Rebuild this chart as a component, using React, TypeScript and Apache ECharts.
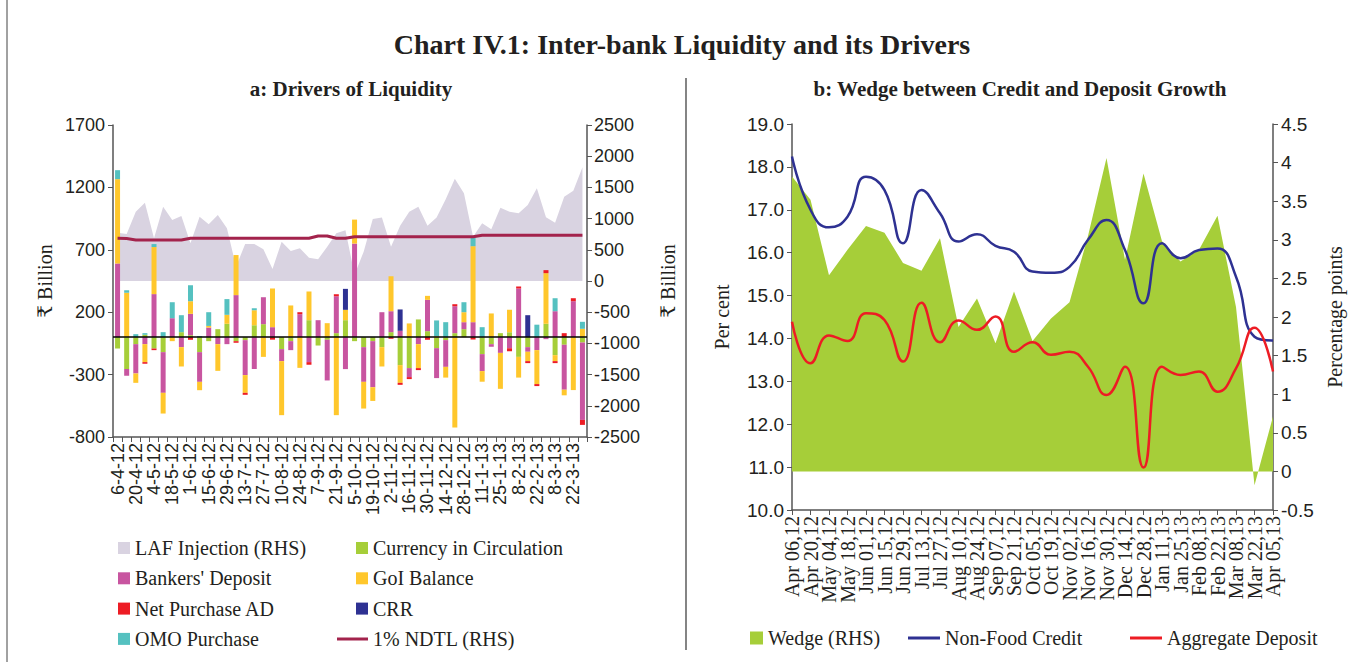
import { useEffect, useRef } from "react";
import * as echarts from "echarts";

const weeks = [
  "6-4-12", "13-4-12", "20-4-12", "27-4-12", "4-5-12", "11-5-12", "18-5-12", "25-5-12",
  "1-6-12", "8-6-12", "15-6-12", "22-6-12", "29-6-12", "6-7-12", "13-7-12", "20-7-12",
  "27-7-12", "3-8-12", "10-8-12", "17-8-12", "24-8-12", "31-8-12", "7-9-12", "14-9-12",
  "21-9-12", "28-9-12", "5-10-12", "12-10-12", "19-10-12", "26-10-12", "2-11-12", "9-11-12",
  "16-11-12", "23-11-12", "30-11-12", "7-12-12", "14-12-12", "21-12-12", "28-12-12", "4-1-13",
  "11-1-13", "18-1-13", "25-1-13", "1-2-13", "8-2-13", "15-2-13", "22-2-13", "1-3-13",
  "8-3-13", "15-3-13", "22-3-13", "29-3-13",
];

const currency = [-91, -256, -56, 19, -91, -120, 0, 40, 16, -120, -32, 64, 107, -32, -24, 96, 104, 0, -96, -32, 0, 136, -67, -21, 32, 136, -32, -80, -32, -80, 40, -224, -248, 142, 48, -88, -24, 32, 64, 0, -136, -56, 32, 40, -158, -80, 0, 107, -144, -61, 0, -43];
const bankers = [590, -53, -235, -56, 345, -326, 152, -80, 171, -238, 77, -56, -56, 337, -280, -256, 216, 80, -96, -72, 184, -200, 136, -326, 296, -256, 750, -278, -369, 200, 168, 51, -72, -56, 251, -240, -214, 216, 56, 120, -136, -21, -126, -88, 390, -37, -104, -16, 208, -360, 288, -620];
const goi = [676, 355, -75, -144, 377, -166, -32, -155, 101, -67, 13, -214, 72, 321, -142, 120, -158, 310, -433, 254, -246, 230, 0, 112, -625, 83, 192, -214, -110, -155, 280, -142, 110, -192, 32, 8, -86, -724, 80, 609, -85, 190, -288, 179, -166, -75, -272, 406, -48, -45, -424, 67];
const netAD = [0, 0, 0, -13, -13, 0, 0, 0, -21, 0, 0, 0, 0, -13, -16, 0, 0, -20, 0, 0, 16, -21, 0, 0, 16, 0, 0, 0, 0, 0, -13, -16, -16, -16, -21, 0, 0, 16, 0, -19, 0, 0, 0, -24, 16, -16, -16, 24, -16, 32, 24, -40];
const crr = [0, 0, 0, 0, 0, 0, 0, 0, 0, 0, 0, 0, 0, 0, 0, 0, 0, 0, 0, 0, 0, 0, 0, 0, 0, 168, 0, 0, 0, 0, 0, 171, 0, 0, 0, 0, 0, 0, 0, 0, 0, 0, 0, 0, 0, 176, 0, 0, 0, 0, 0, 0];
const omo = [72, 21, 24, 13, 24, 40, 128, 136, 128, 8, 110, 0, 126, 0, 0, 16, 0, 0, 0, 0, 0, 0, 0, 0, 0, 0, 0, 0, 0, 0, 0, 0, 0, 0, 0, 126, 120, 0, 80, 80, 80, 0, 0, 0, 0, 0, 100, 0, 104, 0, 0, 56];
const lafInjection = [774, 753, 1111, 1255, 684, 1191, 978, 1042, 604, 1031, 908, 1058, 844, 230, 593, 593, 508, 192, 630, 481, 524, 374, 348, 550, 764, 815, 100, 470, 995, 1018, 550, 885, 1111, 1191, 884, 1018, 1309, 1638, 1405, 710, 924, 828, 1175, 1111, 1085, 1218, 1485, 1020, 934, 1351, 1447, 1822];
const ndtl = [685, 680, 657, 657, 657, 657, 657, 657, 685, 685, 685, 685, 685, 685, 685, 685, 685, 685, 685, 685, 685, 685, 721, 721, 685, 685, 710, 710, 710, 710, 710, 710, 710, 710, 710, 710, 710, 710, 710, 710, 732, 732, 732, 732, 732, 732, 732, 732, 732, 732, 732, 732];

const fortnights = [
  "Apr 06,12", "Apr 20,12", "May 04,12", "May 18,12", "Jun 01,12", "Jun 15,12", "Jun 29,12",
  "Jul 13,12", "Jul 27,12", "Aug 10,12", "Aug 24,12", "Sep 07,12", "Sep 21,12", "Oct 05,12",
  "Oct 19,12", "Nov 02,12", "Nov 16,12", "Nov 30,12", "Dec 14,12", "Dec 28,12", "Jan 11,13",
  "Jan 25,13", "Feb 08,13", "Feb 22,13", "Mar 08,13", "Mar 22,13", "Apr 05,13",
];
const nonFoodCredit = [18.24, 17.0, 16.59, 16.84, 17.77, 17.46, 16.22, 17.46, 16.92, 16.26, 16.43, 16.16, 16.02, 15.56, 15.53, 15.67, 16.3, 16.76, 16.06, 14.82, 16.22, 15.87, 16.06, 16.1, 15.44, 14.04, 13.95];
const aggregateDeposit = [14.39, 13.42, 14.07, 13.94, 14.59, 14.43, 13.46, 14.83, 13.91, 14.42, 14.2, 14.51, 13.69, 13.91, 13.62, 13.69, 13.34, 12.68, 13.34, 10.99, 13.34, 13.15, 13.23, 12.76, 13.3, 14.25, 13.23];
const wedge = [3.82, 3.52, 2.54, 2.87, 3.18, 3.09, 2.7, 2.6, 3.02, 1.87, 2.24, 1.66, 2.33, 1.69, 1.98, 2.19, 3.05, 4.06, 2.74, 3.86, 2.98, 2.72, 2.87, 3.31, 2.13, -0.18, 0.71];

const TXT = "#231f20";
const AX = "#555555";
const SERIF = '"Liberation Serif", "DejaVu Serif", serif';
const SANS = '"Liberation Sans", "DejaVu Sans", sans-serif';

export default function App() {
  const ref = useRef<HTMLDivElement>(null);
  useEffect(() => {
    if (!ref.current) return;
    const chart = echarts.init(ref.current, undefined, { renderer: "svg" });
    const axisLine = { show: true, onZero: false, lineStyle: { color: AX, width: 1.5 } };
    const axisTick = { show: true, length: 5, lineStyle: { color: AX, width: 1 } };
    const legendText = { fontSize: 20, fontFamily: SERIF, color: TXT, lineHeight: 20 };
    const nameStyle = { fontSize: 20, fontFamily: SERIF, color: TXT };
    const plain = (v: number) => String(v);
    const barSeries = (name: string, data: number[], color: string, extra: any = {}) => ({
      name,
      type: "bar",
      xAxisIndex: 0,
      yAxisIndex: 0,
      stack: "drivers",
      barWidth: 5,
      data,
      itemStyle: { color },
      z: 3,
      ...extra,
    });
    const option: any = {
      animation: false,
      backgroundColor: "#ffffff",
      grid: [
        { left: 113, top: 125, width: 474, height: 312 },
        { left: 792, top: 124, width: 481, height: 386 },
      ],
      xAxis: [
        {
          type: "category",
          gridIndex: 0,
          data: weeks,
          boundaryGap: true,
          axisLine,
          axisTick: { ...axisTick, interval: 0 },
          axisLabel: { interval: 1, rotate: 90, fontSize: 18, fontFamily: SANS, color: TXT, margin: 6 },
          splitLine: { show: false },
        },
        {
          type: "category",
          gridIndex: 1,
          data: fortnights,
          boundaryGap: false,
          axisLine,
          axisTick: { ...axisTick, interval: 0 },
          axisLabel: { interval: 0, rotate: 90, fontSize: 20, fontFamily: SERIF, color: TXT, margin: 6 },
          splitLine: { show: false },
        },
      ],
      yAxis: [
        {
          type: "value",
          gridIndex: 0,
          position: "left",
          min: -800,
          max: 1700,
          interval: 500,
          axisLine,
          axisTick,
          splitLine: { show: false },
          axisLabel: { fontSize: 18, fontFamily: SANS, color: TXT, margin: 8, formatter: plain },
          name: "₹ Billion",
          nameLocation: "middle",
          nameRotate: 90,
          nameGap: 58,
          nameTextStyle: nameStyle,
        },
        {
          type: "value",
          gridIndex: 0,
          position: "right",
          min: -2500,
          max: 2500,
          interval: 500,
          axisLine,
          axisTick,
          splitLine: { show: false },
          axisLabel: { fontSize: 18, fontFamily: SANS, color: TXT, margin: 7, formatter: plain },
          name: "₹ Billion",
          nameLocation: "middle",
          nameRotate: 90,
          nameGap: 71,
          nameTextStyle: nameStyle,
        },
        {
          type: "value",
          gridIndex: 1,
          position: "left",
          min: 10,
          max: 19,
          interval: 1,
          axisLine,
          axisTick,
          splitLine: { show: false },
          axisLabel: { fontSize: 19, fontFamily: SANS, color: TXT, margin: 8, formatter: (v: number) => v.toFixed(1) },
          name: "Per cent",
          nameLocation: "middle",
          nameRotate: 90,
          nameGap: 60,
          nameTextStyle: nameStyle,
        },
        {
          type: "value",
          gridIndex: 1,
          position: "right",
          min: -0.5,
          max: 4.5,
          interval: 0.5,
          axisLine,
          axisTick,
          splitLine: { show: false },
          axisLabel: { fontSize: 19, fontFamily: SANS, color: TXT, margin: 8, formatter: plain },
          name: "Percentage points",
          nameLocation: "middle",
          nameRotate: 90,
          nameGap: 52,
          nameTextStyle: nameStyle,
        },
      ],
      legend: [
        {
          orient: "vertical",
          left: 113,
          top: 533,
          itemWidth: 12,
          itemHeight: 12,
          itemGap: 10.3,
          textStyle: legendText,
          data: [
            { name: "LAF Injection (RHS)", icon: "rect" },
            { name: "Bankers' Deposit", icon: "rect" },
            { name: "Net Purchase AD", icon: "rect" },
            { name: "OMO Purchase", icon: "rect" },
          ],
        },
        {
          orient: "vertical",
          left: 351,
          top: 533,
          itemWidth: 12,
          itemHeight: 12,
          itemGap: 10.3,
          textStyle: legendText,
          data: [
            { name: "Currency in Circulation", icon: "rect" },
            { name: "GoI Balance", icon: "rect" },
            { name: "CRR", icon: "rect" },
          ],
        },
        {
          left: 332,
          top: 624,
          itemWidth: 31,
          itemHeight: 3,
          textStyle: legendText,
          data: [{ name: "1% NDTL (RHS)", icon: "rect" }],
        },
        {
          left: 745,
          top: 623,
          itemWidth: 13,
          itemHeight: 13,
          textStyle: legendText,
          data: [{ name: "Wedge (RHS)", icon: "rect" }],
        },
        {
          left: 903,
          top: 623,
          itemWidth: 32,
          itemHeight: 3,
          textStyle: legendText,
          data: [{ name: "Non-Food Credit", icon: "rect" }],
        },
        {
          left: 1125,
          top: 623,
          itemWidth: 32,
          itemHeight: 3,
          textStyle: legendText,
          data: [{ name: "Aggregate Deposit", icon: "rect" }],
        },
      ],
      graphic: [
        { type: "line", shape: { x1: 7, y1: 0, x2: 7, y2: 662 }, style: { stroke: "#444", lineWidth: 1 } },
        { type: "line", shape: { x1: 686, y1: 78, x2: 686, y2: 650 }, style: { stroke: "#333", lineWidth: 1.2 } },
        {
          type: "text",
          x: 682,
          y: 44,
          style: {
            text: "Chart IV.1: Inter-bank Liquidity and its Drivers",
            font: `bold 28px ${SERIF}`,
            fill: TXT,
            textAlign: "center",
            textVerticalAlign: "middle",
          },
        },
        {
          type: "text",
          x: 351,
          y: 89,
          style: {
            text: "a: Drivers of Liquidity",
            font: `bold 21px ${SERIF}`,
            fill: TXT,
            textAlign: "center",
            textVerticalAlign: "middle",
          },
        },
        {
          type: "text",
          x: 1020,
          y: 89,
          style: {
            text: "b: Wedge between Credit and Deposit Growth",
            font: `bold 21px ${SERIF}`,
            fill: TXT,
            textAlign: "center",
            textVerticalAlign: "middle",
          },
        },
      ],
      series: [
        {
          name: "LAF Injection (RHS)",
          type: "line",
          xAxisIndex: 0,
          yAxisIndex: 1,
          data: lafInjection,
          symbol: "none",
          color: "#d9d3e1",
          lineStyle: { width: 0, color: "#d9d3e1" },
          areaStyle: { color: "#d9d3e1", opacity: 1 },
          z: 1,
        },
        barSeries("Currency in Circulation", currency, "#a6ce39", {
          markLine: {
            symbol: "none",
            silent: true,
            label: { show: false },
            lineStyle: { color: "#000", width: 1.5, type: "solid" },
            data: [{ yAxis: 0 }],
          },
        }),
        barSeries("Bankers' Deposit", bankers, "#c855a0"),
        barSeries("GoI Balance", goi, "#ffc72c"),
        barSeries("Net Purchase AD", netAD, "#ed1c24"),
        barSeries("CRR", crr, "#2e3192"),
        barSeries("OMO Purchase", omo, "#55c1c0"),
        {
          name: "1% NDTL (RHS)",
          type: "line",
          xAxisIndex: 0,
          yAxisIndex: 1,
          data: ndtl,
          symbol: "none",
          color: "#a3234c",
          lineStyle: { width: 3, color: "#a3234c" },
          z: 5,
        },
        {
          name: "Wedge (RHS)",
          type: "line",
          xAxisIndex: 1,
          yAxisIndex: 3,
          data: wedge,
          symbol: "none",
          color: "#a6ce39",
          lineStyle: { width: 0, color: "#a6ce39" },
          areaStyle: { color: "#a6ce39", opacity: 1 },
          z: 1,
        },
        {
          name: "Non-Food Credit",
          type: "line",
          xAxisIndex: 1,
          yAxisIndex: 2,
          data: nonFoodCredit,
          symbol: "none",
          smooth: 0.5,
          color: "#2e3192",
          lineStyle: { width: 2.5, color: "#2e3192" },
          z: 4,
        },
        {
          name: "Aggregate Deposit",
          type: "line",
          xAxisIndex: 1,
          yAxisIndex: 2,
          data: aggregateDeposit,
          symbol: "none",
          smooth: 0.5,
          color: "#ed1c24",
          lineStyle: { width: 2.5, color: "#ed1c24" },
          z: 4,
        },
      ],
    };
    chart.setOption(option);
    return () => chart.dispose();
  }, []);
  return (
    <div
      ref={ref}
      style={{ position: "absolute", left: 0, top: 0, width: 1350, height: 662, background: "#fff" }}
    />
  );
}
